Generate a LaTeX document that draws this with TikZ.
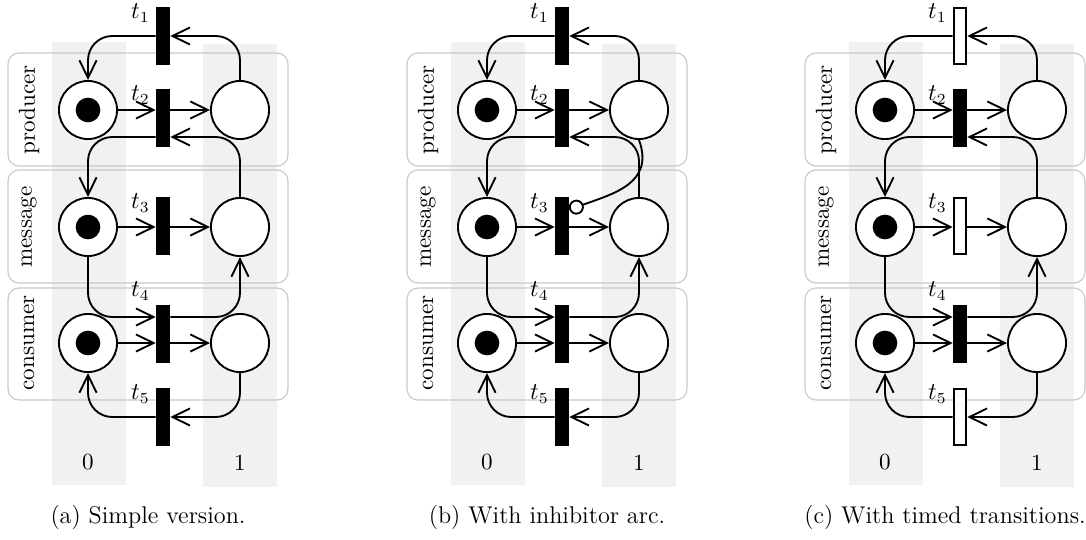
\documentclass[tikz,border=0pt]{standalone}
\usetikzlibrary{arrows.meta,calc}
\definecolor{lanegray}{RGB}{241,241,241}
\definecolor{boxgray}{RGB}{200,200,200}
\tikzset{
  lbl/.style={font=\fontsize{10.5}{12.6}\selectfont},
  place/.style={circle, draw, line width=0.85pt, minimum size=26.4pt, inner sep=0pt, fill=white},
  token/.style={circle, fill=black, minimum size=11.2pt, inner sep=0pt},
  trans/.style={rectangle, draw, fill=black, line width=0.85pt, minimum width=5.8pt, minimum height=25.8pt, inner sep=0pt},
  timed/.style={trans, fill=white},
  tlab/.style={lbl, anchor=north east, inner sep=1pt, xshift=-1.5pt, yshift=2.5pt},
  arc/.style={draw, line width=0.85pt, -{Straight Barb[length=8pt,width=7.8pt]}, rounded corners=11pt},
  inhib/.style={draw, line width=0.85pt, -{Circle[open,length=6.8pt,width=6.8pt]}},
  lane/.style={fill=lanegray},
  lanebox/.style={draw=boxgray, line width=0.5pt, rounded corners=5pt},
  rowlab/.style={lbl, rotate=90, inner sep=0pt},
  colab/.style={lbl, inner sep=0pt},
  subcap/.style={font=\fontsize{11}{13}\selectfont, inner sep=0pt},
}
% one producer/consumer net; #1 = caption text
\newcommand\netbody[1]{%
  % lanes and swimlane boxes
  \fill[lane] (52,42) rectangle (126,485);
  \fill[lane] (203,44) rectangle (277,487);
  \draw[lanebox] (8,53) rectangle (288,166);
  \draw[lanebox] (8,170) rectangle (288,283);
  \draw[lanebox] (8,288) rectangle (288,400);
  \node[rowlab] (lp) at (29,110) {producer};
  \node[rowlab] (lm) at (29,227) {message};
  \node[rowlab] (lc) at (29,343) {consumer};
  \node[colab] (n0) at (88,462) {0};
  \node[colab] (n1) at (240,463) {1};
  % places
  \node[place] (p0) at (88,110) {};
  \node[place] (p1) at (240,110) {};
  \node[place] (m0) at (88,227) {};
  \node[place] (m1) at (240,227) {};
  \node[place] (c0) at (88,343) {};
  \node[place] (c1) at (240,343) {};
  \node[token] (k0) at (p0) {};
  \node[token] (k1) at (m0) {};
  \node[token] (k2) at (c0) {};
  % transitions
  \node[slowtr] (t1) at (163,36) {};
  \node[trans]  (t2) at (163,118) {};
  \node[slowtr] (t3) at (163,226) {};
  \node[trans]  (t4) at (163,334) {};
  \node[slowtr] (t5) at (163,417) {};
  \node[tlab] (l1) at (t1.north west) {$t_1$};
  \node[tlab] (l2) at (t2.north west) {$t_2$};
  \node[tlab] (l3) at (t3.north west) {$t_3$};
  \node[tlab, yshift=9pt] (l4) at (t4.north west) {$t_4$};
  \node[tlab] (l5) at (t5.north west) {$t_5$};
  % arcs
  \draw[arc] (p1.north) |- (t1.east);
  \draw[arc] (t1.west) -| (p0.north);
  \draw[arc] (p0.east) -- (p0.east -| t2.west);
  \draw[arc] (t2.east |- p1) -- (p1.west);
  \draw[arc] (m1.north) |- ($(t2.east)+(0,19)$);
  \draw[arc] ($(t2.west)+(0,19)$) -| (m0.north);
  \draw[arc] (m0.east) -- (m0.east -| t3.west);
  \draw[arc] (t3.east |- m1) -- (m1.west);
  \draw[arc] (m0.south) |- ($(t4.west)+(0,-17)$);
  \draw[arc] ($(t4.east)+(0,-17)$) -| (m1.south);
  \draw[arc] (c0.east) -- (c0.east -| t4.west);
  \draw[arc] (t4.east |- c1) -- (c1.west);
  \draw[arc] (c1.south) |- (t5.east);
  \draw[arc] (t5.west) -| (c0.south);
  \node[subcap] (cap) at (148,517) {#1};
}
\begin{document}
\begin{tikzpicture}[x=0.4545pt, y=-0.4545pt]
  \useasboundingbox (0,0) rectangle (1086,539);
  \begin{scope}[name prefix=a-, slowtr/.style={trans}]
    \netbody{(a) Simple version.}
  \end{scope}
  \begin{scope}[name prefix=b-, shift={(399,0)}, slowtr/.style={trans}]
    \netbody{(b) With inhibitor arc.}
    % inhibitor arc from the producer's ready place to t3
    \draw[inhib] (p1.south) to[out=-70, in=20, looseness=1.2] ($(t3.north east)+(0,13)$);
  \end{scope}
  \begin{scope}[name prefix=c-, shift={(797,0)}, slowtr/.style={timed}]
    \netbody{(c) With timed transitions.}
  \end{scope}
\end{tikzpicture}
\end{document}
